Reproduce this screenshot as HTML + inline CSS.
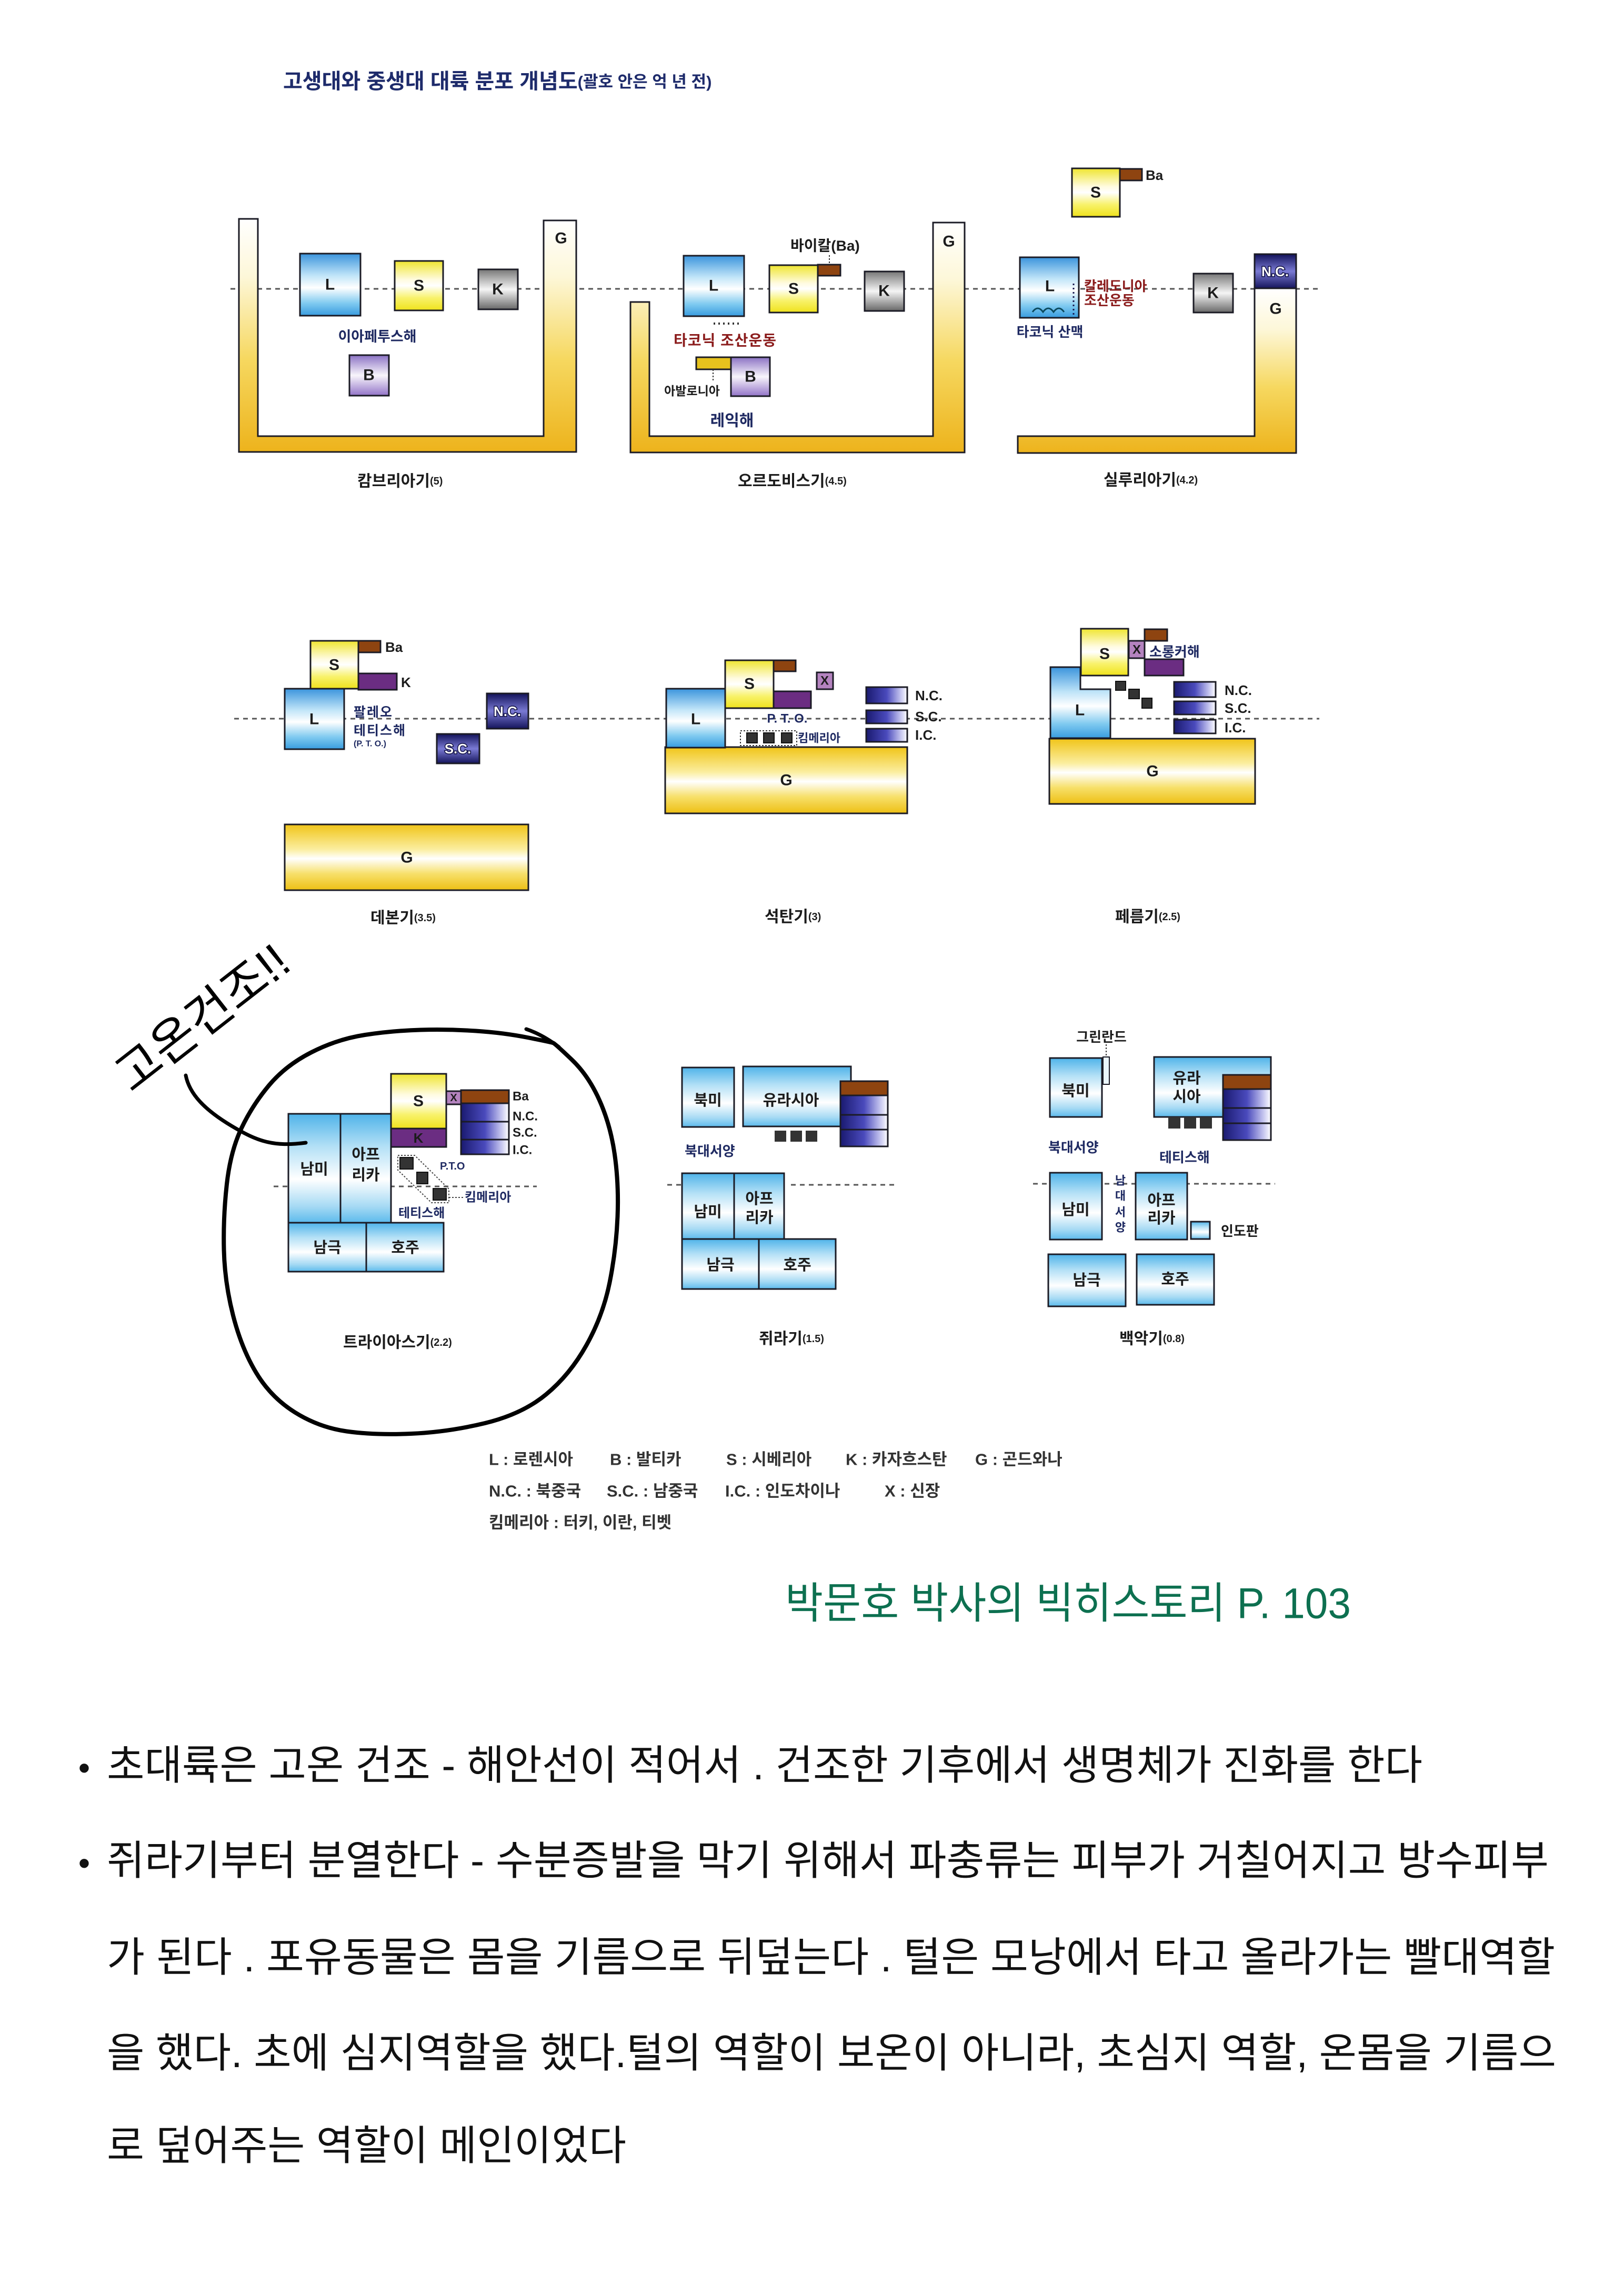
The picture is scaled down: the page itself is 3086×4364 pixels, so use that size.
<!DOCTYPE html>
<html><head><meta charset="utf-8"><style>
html,body{margin:0;padding:0;background:#fff;}
svg{display:block;font-family:"Liberation Sans","Noto Sans CJK KR",sans-serif;}
.b{font-weight:700;}
.c{text-anchor:middle;dominant-baseline:central;}
.l{dominant-baseline:central;}
.bx{stroke:#1b1b25;stroke-width:3;}
.dash{stroke:#555;stroke-width:3;stroke-dasharray:9 8;}
.nv{fill:#1f2a62;}
.rd{fill:#8b1c1c;}
.dk{fill:#1c1c1c;}
.wt{fill:#fff;stroke:#0d0d40;stroke-width:3;paint-order:stroke;}
</style></head><body>
<svg width="3086" height="4364" viewBox="0 0 3086 4364" xmlns="http://www.w3.org/2000/svg">
<defs>
<linearGradient id="gL" x1="0" y1="0" x2="0" y2="1"><stop offset="0" stop-color="#3b94dc"/><stop offset="0.35" stop-color="#bfe4f8"/><stop offset="0.55" stop-color="#ffffff"/><stop offset="0.8" stop-color="#7fcaf0"/><stop offset="1" stop-color="#389cdf"/></linearGradient>
<linearGradient id="gS" x1="0" y1="0" x2="0" y2="1"><stop offset="0" stop-color="#efe52f"/><stop offset="0.38" stop-color="#fffbe0"/><stop offset="0.5" stop-color="#ffffff"/><stop offset="0.75" stop-color="#f8f26a"/><stop offset="1" stop-color="#efe21c"/></linearGradient>
<linearGradient id="gK" x1="0" y1="0" x2="0" y2="1"><stop offset="0" stop-color="#777"/><stop offset="0.5" stop-color="#f5f5f5"/><stop offset="1" stop-color="#686868"/></linearGradient>
<linearGradient id="gB" x1="0" y1="0" x2="0" y2="1"><stop offset="0" stop-color="#8b72c4"/><stop offset="0.5" stop-color="#f8f5fb"/><stop offset="1" stop-color="#9273c8"/></linearGradient>
<linearGradient id="gU" x1="0" y1="0" x2="0" y2="1"><stop offset="0" stop-color="#ffffff"/><stop offset="0.25" stop-color="#fdf7d8"/><stop offset="0.6" stop-color="#f6d860"/><stop offset="1" stop-color="#edb31c"/></linearGradient>
<linearGradient id="gG" x1="0" y1="0" x2="0" y2="1"><stop offset="0" stop-color="#f0c418"/><stop offset="0.38" stop-color="#fbeea0"/><stop offset="0.52" stop-color="#ffffff"/><stop offset="0.75" stop-color="#f7e06a"/><stop offset="1" stop-color="#edbf14"/></linearGradient>
<linearGradient id="gN" x1="0" y1="0" x2="0" y2="1"><stop offset="0" stop-color="#12125a"/><stop offset="0.5" stop-color="#7a7ad4"/><stop offset="1" stop-color="#14145c"/></linearGradient>
<linearGradient id="gH" x1="0" y1="0" x2="1" y2="0"><stop offset="0" stop-color="#1a1a70"/><stop offset="0.5" stop-color="#4a4abc"/><stop offset="0.85" stop-color="#c8c8f0"/><stop offset="1" stop-color="#ffffff"/></linearGradient>
<linearGradient id="gC" x1="0" y1="0" x2="0" y2="1"><stop offset="0" stop-color="#4fb3e9"/><stop offset="0.3" stop-color="#b3e0f6"/><stop offset="0.6" stop-color="#ffffff"/><stop offset="0.85" stop-color="#a6daf4"/><stop offset="1" stop-color="#5cbaec"/></linearGradient>
</defs>
<rect width="3086" height="4364" fill="#fff"/>

<!-- Title -->
<text x="538" y="155" class="l b" font-size="40" fill="#1e2b6b">고생대와 중생대 대륙 분포 개념도<tspan font-size="31">(괄호 안은 억 년 전)</tspan></text>

<!-- ROW 1 -->
<line x1="438" y1="549" x2="2512" y2="549" class="dash"/>

<!-- Cambrian -->
<path d="M454,416H490V829H1033V419H1095V859H454Z" fill="url(#gU)" class="bx"/>
<text x="1066" y="453" class="c b dk" font-size="30">G</text>
<rect x="570" y="482" width="115" height="118" fill="url(#gL)" class="bx"/><text x="627" y="541" class="c b dk" font-size="30">L</text>
<rect x="750" y="496" width="92" height="94" fill="url(#gS)" class="bx"/><text x="796" y="543" class="c b dk" font-size="30">S</text>
<rect x="909" y="512" width="75" height="76" fill="url(#gK)" class="bx"/><text x="946" y="550" class="c b dk" font-size="30">K</text>
<rect x="664" y="675" width="75" height="77" fill="url(#gB)" class="bx"/><text x="701" y="713" class="c b dk" font-size="30">B</text>
<text x="717" y="640" class="c b nv" font-size="27">이아페투스해</text>
<text x="679" y="915" class="l b dk" font-size="30">캄브리아기<tspan font-size="20">(5)</tspan></text>

<!-- Ordovician -->
<path d="M1198,574H1234V829H1773V423H1833V860H1198Z" fill="url(#gU)" class="bx"/>
<text x="1803" y="459" class="c b dk" font-size="30">G</text>
<rect x="1299" y="486" width="115" height="115" fill="url(#gL)" class="bx"/><text x="1356" y="543" class="c b dk" font-size="30">L</text>
<rect x="1462" y="504" width="92" height="90" fill="url(#gS)" class="bx"/><text x="1508" y="549" class="c b dk" font-size="30">S</text>
<rect x="1554" y="503" width="43" height="21" fill="#8e4410" class="bx"/>
<line x1="1576" y1="485" x2="1576" y2="503" stroke="#333" stroke-width="2" stroke-dasharray="3 3"/>
<text x="1502" y="467" class="l b dk" font-size="28">바이칼(Ba)</text>
<line x1="1356" y1="615" x2="1410" y2="615" stroke="#333" stroke-width="4" stroke-dasharray="3 6"/>
<text x="1378" y="647" class="c b rd" font-size="28" letter-spacing="1">타코닉 조산운동</text>
<rect x="1323" y="679" width="66" height="23" fill="#e6c21e" class="bx"/>
<line x1="1355" y1="702" x2="1355" y2="724" stroke="#333" stroke-width="2" stroke-dasharray="3 3"/>
<rect x="1389" y="679" width="74" height="74" fill="url(#gB)" class="bx"/><text x="1426" y="716" class="c b dk" font-size="30">B</text>
<text x="1315" y="743" class="c b dk" font-size="23">아발로니아</text>
<text x="1391" y="800" class="c b nv" font-size="30">레익해</text>
<rect x="1643" y="516" width="75" height="75" fill="url(#gK)" class="bx"/><text x="1680" y="553" class="c b dk" font-size="30">K</text>
<text x="1402" y="915" class="l b dk" font-size="30">오르도비스기<tspan font-size="20">(4.5)</tspan></text>

<!-- Silurian -->
<rect x="2037" y="320" width="91" height="92" fill="url(#gS)" class="bx"/><text x="2082" y="366" class="c b dk" font-size="30">S</text>
<rect x="2128" y="321" width="42" height="22" fill="#8e4410" class="bx"/>
<text x="2177" y="333" class="l b dk" font-size="26">Ba</text>
<rect x="1938" y="489" width="112" height="115" fill="url(#gL)" class="bx"/><text x="1995" y="544" class="c b dk" font-size="30">L</text>
<path d="M1962,593q10,-14 20,0q10,-14 20,0q10,-14 20,0" fill="none" stroke="#0c4a5e" stroke-width="3"/>
<line x1="2040" y1="539" x2="2040" y2="598" stroke="#1a1a50" stroke-width="3" stroke-dasharray="3 5"/>
<text x="2060" y="544" class="l b rd" font-size="26">칼레도니아</text>
<text x="2060" y="571" class="l b rd" font-size="26">조산운동</text>
<text x="1995" y="631" class="c b nv" font-size="26">타코닉 산맥</text>
<rect x="2268" y="520" width="75" height="74" fill="url(#gK)" class="bx"/><text x="2305" y="557" class="c b dk" font-size="30">K</text>
<path d="M2384,548H2463V861H1934V829H2384Z" fill="url(#gU)" class="bx"/>
<rect x="2384" y="483" width="79" height="65" fill="url(#gN)" class="bx"/><text x="2423" y="516" class="c b wt" font-size="26">N.C.</text>
<text x="2424" y="587" class="c b dk" font-size="30">G</text>
<text x="2097" y="913" class="l b dk" font-size="30">실루리아기<tspan font-size="20">(4.2)</tspan></text>

<!-- ROW 2 -->
<line x1="445" y1="1366" x2="2507" y2="1366" class="dash"/>

<!-- Devonian -->
<rect x="590" y="1218" width="91" height="91" fill="url(#gS)" class="bx"/><text x="635" y="1264" class="c b dk" font-size="30">S</text>
<rect x="681" y="1218" width="42" height="22" fill="#8e4410" class="bx"/>
<text x="732" y="1230" class="l b dk" font-size="26">Ba</text>
<rect x="681" y="1280" width="73" height="31" fill="#6b2d82" class="bx"/>
<text x="762" y="1297" class="l b dk" font-size="26">K</text>
<rect x="541" y="1309" width="113" height="115" fill="url(#gL)" class="bx"/><text x="597" y="1367" class="c b dk" font-size="30">L</text>
<text x="672" y="1354" class="l b nv" font-size="25" letter-spacing="2">팔레오</text>
<text x="672" y="1389" class="l b nv" font-size="25" letter-spacing="2">테티스해</text>
<text x="672" y="1414" class="l b nv" font-size="16">(P. T. O.)</text>
<rect x="925" y="1318" width="79" height="67" fill="url(#gN)" class="bx"/><text x="964" y="1352" class="c b wt" font-size="26">N.C.</text>
<rect x="830" y="1395" width="81" height="56" fill="url(#gN)" class="bx"/><text x="870" y="1423" class="c b wt" font-size="26">S.C.</text>
<rect x="541" y="1567" width="463" height="125" fill="url(#gG)" class="bx"/><text x="773" y="1630" class="c b dk" font-size="30">G</text>
<text x="704" y="1745" class="l b dk" font-size="30">데본기<tspan font-size="20">(3.5)</tspan></text>

<!-- Carboniferous -->
<rect x="1264" y="1420" width="460" height="126" fill="url(#gG)" class="bx"/><text x="1494" y="1483" class="c b dk" font-size="30">G</text>
<rect x="1266" y="1309" width="112" height="112" fill="url(#gL)" class="bx"/><text x="1322" y="1367" class="c b dk" font-size="30">L</text>
<rect x="1378" y="1255" width="92" height="91" fill="url(#gS)" class="bx"/><text x="1424" y="1300" class="c b dk" font-size="30">S</text>
<rect x="1470" y="1255" width="42" height="21" fill="#8e4410" class="bx"/>
<rect x="1470" y="1314" width="71" height="32" fill="#6b2d82" class="bx"/>
<rect x="1552" y="1278" width="31" height="32" fill="#b483bf" class="bx"/><text x="1567" y="1294" class="c b dk" font-size="24">X</text>
<text x="1496" y="1366" class="c b nv" font-size="24">P. T. O.</text>
<rect x="1407" y="1389" width="107" height="28" fill="none" stroke="#333" stroke-width="2" stroke-dasharray="3 3"/>
<rect x="1419" y="1393" width="20" height="19" fill="#333" stroke="#111" stroke-width="2"/>
<rect x="1451" y="1393" width="20" height="19" fill="#333" stroke="#111" stroke-width="2"/>
<rect x="1485" y="1393" width="20" height="19" fill="#333" stroke="#111" stroke-width="2"/>
<text x="1516" y="1403" class="l b nv" font-size="22">킴메리아</text>
<rect x="1646" y="1306" width="78" height="31" fill="url(#gH)" class="bx"/>
<rect x="1646" y="1350" width="78" height="25" fill="url(#gH)" class="bx"/>
<rect x="1646" y="1385" width="78" height="25" fill="url(#gH)" class="bx"/>
<text x="1739" y="1322" class="l b dk" font-size="26">N.C.</text>
<text x="1739" y="1362" class="l b dk" font-size="26">S.C.</text>
<text x="1739" y="1397" class="l b dk" font-size="26">I.C.</text>
<text x="1453" y="1743" class="l b dk" font-size="30">석탄기<tspan font-size="20">(3)</tspan></text>

<!-- Permian -->
<rect x="1994" y="1404" width="391" height="124" fill="url(#gG)" class="bx"/><text x="2190" y="1466" class="c b dk" font-size="30">G</text>
<path d="M1996,1268H2053V1310H2110V1403H1996Z" fill="url(#gL)" class="bx"/><text x="2052" y="1350" class="c b dk" font-size="30">L</text>
<rect x="2054" y="1195" width="90" height="89" fill="url(#gS)" class="bx"/><text x="2099" y="1243" class="c b dk" font-size="30">S</text>
<rect x="2175" y="1196" width="43" height="22" fill="#8e4410" class="bx"/>
<rect x="2145" y="1218" width="30" height="33" fill="#b483bf" class="bx"/><text x="2160" y="1235" class="c b dk" font-size="24">X</text>
<text x="2184" y="1239" class="l b nv" font-size="26">소롱커해</text>
<rect x="2175" y="1253" width="74" height="31" fill="#6b2d82" class="bx"/>
<rect x="2120" y="1295" width="19" height="17" fill="#333" stroke="#111" stroke-width="2"/>
<rect x="2145" y="1310" width="20" height="18" fill="#333" stroke="#111" stroke-width="2"/>
<rect x="2170" y="1327" width="19" height="19" fill="#333" stroke="#111" stroke-width="2"/>
<rect x="2231" y="1296" width="79" height="29" fill="url(#gH)" class="bx"/>
<rect x="2231" y="1333" width="79" height="25" fill="url(#gH)" class="bx"/>
<rect x="2231" y="1368" width="79" height="26" fill="url(#gH)" class="bx"/>
<text x="2327" y="1312" class="l b dk" font-size="26">N.C.</text>
<text x="2327" y="1346" class="l b dk" font-size="26">S.C.</text>
<text x="2327" y="1383" class="l b dk" font-size="26">I.C.</text>
<text x="2119" y="1743" class="l b dk" font-size="30">페름기<tspan font-size="20">(2.5)</tspan></text>

<!-- ROW 3 : Triassic -->
<line x1="520" y1="2255" x2="1020" y2="2255" class="dash"/>
<rect x="548" y="2117" width="99" height="207" fill="url(#gC)" class="bx"/><text x="597" y="2223" class="c b dk" font-size="29">남미</text>
<rect x="647" y="2117" width="96" height="207" fill="url(#gC)" class="bx"/>
<text x="695" y="2195" class="c b dk" font-size="29">아프</text><text x="695" y="2234" class="c b dk" font-size="29">리카</text>
<rect x="743" y="2041" width="105" height="104" fill="url(#gS)" class="bx"/><text x="795" y="2093" class="c b dk" font-size="30">S</text>
<rect x="743" y="2145" width="105" height="35" fill="#6b2d82" class="bx"/><text x="795" y="2163" class="c b dk" font-size="26">K</text>
<rect x="848" y="2074" width="28" height="25" fill="#b483bf" class="bx"/><text x="862" y="2087" class="c b dk" font-size="20">X</text>
<rect x="876" y="2072" width="91" height="25" fill="#8e4410" class="bx"/>
<rect x="876" y="2097" width="91" height="35" fill="url(#gH)" class="bx"/>
<rect x="876" y="2132" width="91" height="34" fill="url(#gH)" class="bx"/>
<rect x="876" y="2166" width="91" height="28" fill="url(#gH)" class="bx"/>
<text x="974" y="2084" class="l b dk" font-size="24">Ba</text>
<text x="974" y="2122" class="l b dk" font-size="24">N.C.</text>
<text x="974" y="2153" class="l b dk" font-size="24">S.C.</text>
<text x="974" y="2186" class="l b dk" font-size="24">I.C.</text>
<polygon points="756,2196 788,2196 853,2260 853,2286 820,2286 756,2224" fill="none" stroke="#444" stroke-width="2" stroke-dasharray="3 3"/>
<rect x="760" y="2200" width="25" height="22" fill="#333" stroke="#111" stroke-width="2"/>
<rect x="792" y="2228" width="21" height="22" fill="#333" stroke="#111" stroke-width="2"/>
<rect x="823" y="2259" width="25" height="22" fill="#333" stroke="#111" stroke-width="2"/>
<text x="836" y="2217" class="l b nv" font-size="20">P.T.O</text>
<line x1="853" y1="2276" x2="880" y2="2276" stroke="#444" stroke-width="2" stroke-dasharray="3 3"/>
<text x="883" y="2276" class="l b nv" font-size="24">킴메리아</text>
<text x="757" y="2306" class="l b nv" font-size="24">테티스해</text>
<rect x="548" y="2324" width="148" height="93" fill="url(#gC)" class="bx"/><text x="622" y="2372" class="c b dk" font-size="29">남극</text>
<rect x="696" y="2324" width="147" height="93" fill="url(#gC)" class="bx"/><text x="770" y="2372" class="c b dk" font-size="29">호주</text>
<text x="652" y="2552" class="l b dk" font-size="30">트라이아스기<tspan font-size="20">(2.2)</tspan></text>

<!-- hand-drawn circle & note -->
<path d="M1086.5,2014 Q1118,2044 1139,2091 Q1160,2138 1168,2194 Q1176,2250 1173.5,2312.5 Q1171,2375 1158.5,2437.5 Q1146,2500 1114.5,2556.5 Q1083,2613 1037.5,2650.5 Q992,2688 921.5,2705 Q851,2722 781,2725 Q711,2728 658.5,2720.5 Q606,2713 560.5,2684.5 Q515,2656 487,2609.5 Q459,2563 443,2500.5 Q427,2438 425.5,2375.5 Q424,2313 431,2250.5 Q438,2188 459,2144 Q480,2100 511.5,2062.5 Q543,2025 592,2000 Q641,1975 693.5,1967 Q746,1959 799,1957.5 Q852,1956 904.5,1959.5 Q957,1963 1002.5,1972 Q1048,1981 1051.5,1982.5 Q1055,1984 1086.5,2014" fill="none" stroke="#000" stroke-width="8" stroke-linecap="round" stroke-linejoin="round"/>
<path d="M1000,1956 Q1030,1966 1062,1990" fill="none" stroke="#000" stroke-width="7" stroke-linecap="round"/>
<path d="M353,2044 C360,2080 390,2110 440,2140 S520,2180 581,2172" fill="none" stroke="#000" stroke-width="7" stroke-linecap="round"/>
<text transform="translate(385,1935) rotate(-38)" class="c" font-size="92" fill="#000">고온건조!!</text>

<!-- Jurassic -->
<line x1="1268" y1="2252" x2="1296" y2="2252" class="dash"/>
<line x1="1503" y1="2252" x2="1706" y2="2252" class="dash"/>
<rect x="1296" y="2029" width="99" height="113" fill="url(#gC)" class="bx"/><text x="1345" y="2092" class="c b dk" font-size="29">북미</text>
<rect x="1412" y="2027" width="205" height="114" fill="url(#gC)" class="bx"/><text x="1503" y="2092" class="c b dk" font-size="29">유라시아</text>
<rect x="1597" y="2055" width="90" height="27" fill="#8e4410" class="bx"/>
<rect x="1597" y="2082" width="90" height="37" fill="url(#gH)" class="bx"/>
<rect x="1597" y="2119" width="90" height="28" fill="url(#gH)" class="bx"/>
<rect x="1597" y="2147" width="90" height="32" fill="url(#gH)" class="bx"/>
<rect x="1472" y="2149" width="22" height="21" fill="#333"/>
<rect x="1502" y="2149" width="22" height="21" fill="#333"/>
<rect x="1531" y="2149" width="22" height="21" fill="#333"/>
<text x="1301" y="2188" class="l b nv" font-size="26">북대서양</text>
<rect x="1296" y="2230" width="99" height="125" fill="url(#gC)" class="bx"/><text x="1345" y="2304" class="c b dk" font-size="29">남미</text>
<rect x="1395" y="2230" width="95" height="125" fill="url(#gC)" class="bx"/>
<text x="1443" y="2279" class="c b dk" font-size="29">아프</text><text x="1443" y="2315" class="c b dk" font-size="29">리카</text>
<rect x="1296" y="2355" width="146" height="95" fill="url(#gC)" class="bx"/><text x="1369" y="2405" class="c b dk" font-size="29">남극</text>
<rect x="1442" y="2355" width="146" height="95" fill="url(#gC)" class="bx"/><text x="1515" y="2405" class="c b dk" font-size="29">호주</text>
<text x="1442" y="2545" class="l b dk" font-size="30">쥐라기<tspan font-size="20">(1.5)</tspan></text>

<!-- Cretaceous -->
<line x1="1963" y1="2250" x2="2423" y2="2250" class="dash"/>
<text x="2093" y="1971" class="c b dk" font-size="26">그린란드</text>
<line x1="2102" y1="1985" x2="2102" y2="2009" stroke="#333" stroke-width="2" stroke-dasharray="3 3"/>
<rect x="1995" y="2011" width="99" height="112" fill="url(#gC)" class="bx"/><text x="2044" y="2074" class="c b dk" font-size="29">북미</text>
<rect x="2096" y="2009" width="12" height="52" fill="#eaf6fd" stroke="#1b1b25" stroke-width="2"/>
<rect x="2193" y="2009" width="222" height="114" fill="url(#gC)" class="bx"/>
<text x="2255" y="2050" class="c b dk" font-size="29">유라</text><text x="2255" y="2085" class="c b dk" font-size="29">시아</text>
<rect x="2324" y="2043" width="91" height="27" fill="#8e4410" class="bx"/>
<rect x="2324" y="2070" width="91" height="36" fill="url(#gH)" class="bx"/>
<rect x="2324" y="2106" width="91" height="29" fill="url(#gH)" class="bx"/>
<rect x="2324" y="2135" width="91" height="32" fill="url(#gH)" class="bx"/>
<rect x="2220" y="2123" width="23" height="22" fill="#333"/>
<rect x="2250" y="2123" width="23" height="22" fill="#333"/>
<rect x="2280" y="2123" width="23" height="22" fill="#333"/>
<text x="1992" y="2181" class="l b nv" font-size="26">북대서양</text>
<text x="2203" y="2200" class="l b nv" font-size="26">테티스해</text>
<rect x="1995" y="2229" width="99" height="127" fill="url(#gC)" class="bx"/><text x="2044" y="2300" class="c b dk" font-size="29">남미</text>
<text x="2129" y="2244" class="c b nv" font-size="22">남</text>
<text x="2129" y="2273" class="c b nv" font-size="22">대</text>
<text x="2129" y="2304" class="c b nv" font-size="22">서</text>
<text x="2129" y="2333" class="c b nv" font-size="22">양</text>
<rect x="2158" y="2229" width="98" height="127" fill="url(#gC)" class="bx"/>
<text x="2207" y="2282" class="c b dk" font-size="29">아프</text><text x="2207" y="2316" class="c b dk" font-size="29">리카</text>
<rect x="2263" y="2322" width="36" height="33" fill="url(#gC)" class="bx"/>
<text x="2320" y="2340" class="l b dk" font-size="26">인도판</text>
<rect x="1992" y="2384" width="147" height="99" fill="url(#gC)" class="bx"/><text x="2065" y="2434" class="c b dk" font-size="29">남극</text>
<rect x="2160" y="2384" width="147" height="96" fill="url(#gC)" class="bx"/><text x="2233" y="2432" class="c b dk" font-size="29">호주</text>
<text x="2127" y="2545" class="l b dk" font-size="30">백악기<tspan font-size="20">(0.8)</tspan></text>

<!-- Legend -->
<g class="b" font-size="31" fill="#333">
<text x="929" y="2774" class="l">L : 로렌시아</text>
<text x="1159" y="2774" class="l">B : 발티카</text>
<text x="1380" y="2774" class="l">S : 시베리아</text>
<text x="1607" y="2774" class="l">K : 카자흐스탄</text>
<text x="1853" y="2774" class="l">G : 곤드와나</text>
<text x="929" y="2834" class="l">N.C. : 북중국</text>
<text x="1153" y="2834" class="l">S.C. : 남중국</text>
<text x="1378" y="2834" class="l">I.C. : 인도차이나</text>
<text x="1681" y="2834" class="l">X : 신장</text>
<text x="929" y="2894" class="l">킴메리아 : 터키, 이란, 티벳</text>
</g>

<!-- Citation -->
<text x="1492" y="3048" class="l" font-size="82" fill="#0d7050" textLength="1075" lengthAdjust="spacingAndGlyphs">박문호 박사의 빅히스토리 P. 103</text>

<!-- Body text -->
<g font-size="78" fill="#111">
<text x="160" y="3360" class="c" font-size="64">•</text>
<text x="203" y="3355" class="l" textLength="2500" lengthAdjust="spacingAndGlyphs">초대륙은 고온 건조 - 해안선이 적어서 . 건조한 기후에서 생명체가 진화를 한다</text>
<text x="160" y="3541" class="c" font-size="64">•</text>
<text x="203" y="3536" class="l" textLength="2740" lengthAdjust="spacingAndGlyphs">쥐라기부터 분열한다  - 수분증발을 막기 위해서 파충류는 피부가 거칠어지고 방수피부</text>
<text x="203" y="3720" class="l" textLength="2752" lengthAdjust="spacingAndGlyphs">가 된다 .  포유동물은 몸을 기름으로 뒤덮는다 . 털은 모낭에서 타고 올라가는 빨대역할</text>
<text x="203" y="3902" class="l" textLength="2754" lengthAdjust="spacingAndGlyphs">을 했다. 초에 심지역할을 했다.털의 역할이 보온이 아니라, 초심지 역할, 온몸을 기름으</text>
<text x="203" y="4078" class="l" textLength="987" lengthAdjust="spacingAndGlyphs">로 덮어주는 역할이 메인이었다</text>
</g>
</svg>
</body></html>
